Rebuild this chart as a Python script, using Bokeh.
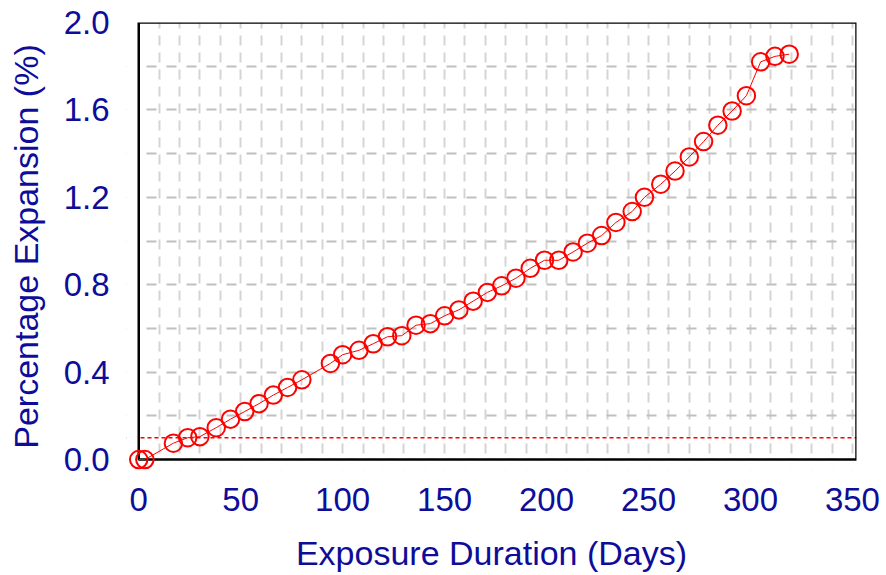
from bokeh.plotting import figure
from bokeh.models import (Range1d, SingleIntervalTicker, Span, BoxAnnotation,
                          ColumnDataSource, NumeralTickFormatter)
from bokeh.embed import file_html
from bokeh.resources import INLINE

# ---- data ----
days = [0, 3, 17, 24, 30, 38, 45, 52, 59, 66, 73, 80,
        94, 100, 108, 115, 122, 129, 136, 143, 150, 157,
        164, 171, 178, 185, 192, 199, 206, 213, 220, 227,
        234, 242, 248, 256, 263, 270, 277, 284, 291, 298,
        305, 312, 319]
expansion = [0.0, 0.0, 0.075, 0.10, 0.105, 0.146, 0.185, 0.22, 0.256, 0.295, 0.33, 0.365,
             0.44, 0.48, 0.50, 0.53, 0.562, 0.567, 0.615, 0.622, 0.658, 0.685,
             0.725, 0.765, 0.795, 0.83, 0.875, 0.912, 0.912, 0.95, 0.99, 1.025,
             1.085, 1.135, 1.20, 1.26, 1.32, 1.385, 1.455, 1.53, 1.595, 1.665,
             1.82, 1.845, 1.855]
limit = 0.1
x_start, x_end = 0, 352
y_start, y_end = 0.0, 2.0
x_label = "Exposure Duration (Days)"
y_label = "Percentage Expansion (%)"

NAVY = "#0d0d99"
FONT = "Liberation Sans"

src = ColumnDataSource(dict(days=days, expansion=expansion))

p = figure(width=884, height=575, output_backend="svg", toolbar_location=None,
           x_range=Range1d(x_start - 6, x_end), y_range=Range1d(y_start - 0.05, y_end),
           min_border_left=126, min_border_right=28, min_border_top=22, min_border_bottom=105)
p.outline_line_color = None
p.background_fill_color = "white"

# axes
p.xaxis.ticker = SingleIntervalTicker(interval=50)
p.yaxis.ticker = SingleIntervalTicker(interval=0.4)
p.yaxis.formatter = NumeralTickFormatter(format="0.0")
for ax in (p.xaxis[0], p.yaxis[0]):
    ax.axis_line_color = None
    ax.major_tick_line_color = None
    ax.minor_tick_line_color = None
    ax.major_label_text_font = FONT
    ax.major_label_text_font_size = "33px"
    ax.major_label_text_color = NAVY
    ax.axis_label_text_font = FONT
    ax.axis_label_text_font_size = "34px"
    ax.axis_label_text_font_style = "normal"
    ax.axis_label_text_color = NAVY
p.xaxis.axis_label = x_label
p.yaxis.axis_label = y_label
p.xaxis.major_label_standoff = 11
p.xaxis.axis_label_standoff = 20
p.yaxis.major_label_standoff = 11
p.yaxis.axis_label_standoff = 16

# grids
p.xgrid.ticker = SingleIntervalTicker(interval=10)
p.ygrid.ticker = SingleIntervalTicker(interval=0.2)
p.xgrid.bounds = (x_start, x_end)
p.ygrid.bounds = (y_start, y_end)
p.xgrid.grid_line_color = "#d4d4d4"
p.xgrid.grid_line_width = 2
p.xgrid.grid_line_dash = "10 7"
p.ygrid.grid_line_color = "#c0c0c0"
p.ygrid.grid_line_width = 2
p.ygrid.grid_line_dash = "10 10"

# limit line
p.add_layout(Span(location=limit, dimension="width", line_color="red",
                  line_dash="4 3", line_width=1.5, level="underlay"))

# white masks outside the data frame (left of x=0, below y=0)
p.add_layout(BoxAnnotation(right=x_start, fill_color="white", fill_alpha=1.0, line_alpha=0))
p.add_layout(BoxAnnotation(top=y_start, fill_color="white", fill_alpha=1.0, line_alpha=0))
# frame border
p.add_layout(BoxAnnotation(left=x_start, bottom=y_start, fill_alpha=0,
                           line_color="black", line_width=2.5, line_alpha=1.0))

# data
p.line("days", "expansion", source=src, line_color="red", line_width=1, level="overlay")
p.scatter("days", "expansion", source=src, marker="circle", size=17.5,
          fill_color=None, line_color="red", line_width=2, level="overlay")

open("out.html", "w").write(file_html(p, INLINE))
